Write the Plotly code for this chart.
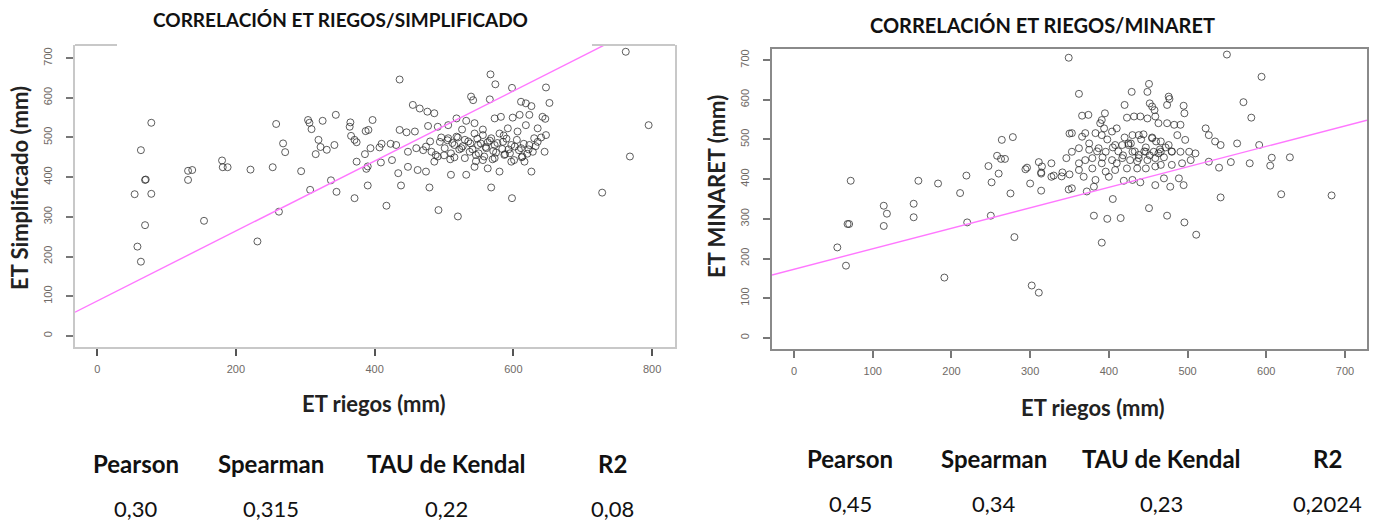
import plotly.graph_objects as go

W, H = 1381, 523

# ---------------- data: left panel (ET riegos vs ET Simplificado) ----------------
riegos_simpl = [78, 63, 69, 70, 54, 78, 69, 58, 63,
    131, 137, 131, 180, 181, 188, 154, 221, 231, 253, 258, 268, 271, 262, 294, 304, 306, 309, 325, 344, 319, 322, 331, 342, 315, 307, 337, 345, 365, 364, 366, 371, 374, 397, 387, 391, 371, 374, 386, 390, 388, 390, 394, 407, 410, 423, 409, 425, 417,
    436, 567, 574, 598, 647, 652, 762, 795, 768, 728, 539, 542, 566, 455, 465, 476, 486, 611, 618, 626, 642, 646, 518, 532, 544, 573, 582, 599, 609, 623, 436, 446, 458, 477, 491, 506,
    431, 448, 460, 474, 482,
    494, 506, 518, 530, 544, 556, 568, 580, 592, 606, 618, 630,
    501, 515, 525, 537, 549, 561, 573, 585, 597, 611, 623, 635,
    491, 510, 530, 546, 556, 573, 587, 601, 613, 628,
    448, 462, 474, 486, 510, 532, 544, 563, 580, 597, 616, 626,
    434, 438, 479, 492, 520, 568, 598, 645, 647, 635,
    505, 512, 520, 527, 535, 541, 548, 553, 560, 566, 571, 577, 584, 590, 595, 602, 608, 615, 620, 632,
    500, 515, 522, 538, 550, 558, 563, 575, 588, 593, 605, 612, 622, 640,
    470, 480, 488, 496, 509, 526, 546, 556, 570, 586]
et_simplificado = [537, 468, 393, 394, 357, 358, 279, 225, 187,
    416, 418, 393, 442, 425, 425, 290, 419, 238, 425, 534, 485, 463, 313, 415, 544, 537, 521, 542, 557, 494, 476, 469, 481, 458, 368, 392, 363, 538, 527, 504, 494, 488, 544, 516, 519, 347, 439, 458, 427, 421, 379, 473, 475, 484, 484, 437, 443, 328,
    646, 659, 634, 625, 626, 587, 716, 531, 452, 361, 603, 594, 596, 582, 573, 565, 561, 590, 586, 579, 552, 547, 548, 542, 536, 548, 552, 550, 557, 557, 519, 513, 515, 529, 527, 531,
    481, 464, 473, 477, 464,
    489, 498, 502, 494, 510, 506, 498, 510, 523, 515, 531, 498,
    473, 481, 473, 464, 481, 473, 481, 489, 481, 473, 481, 489,
    452, 460, 448, 456, 443, 448, 456, 443, 452, 464,
    426, 418, 414, 439, 406, 406, 426, 422, 414, 439, 439, 414,
    410, 379, 374, 317, 301, 374, 347, 464, 506, 523,
    493, 486, 500, 478, 490, 470, 497, 485, 476, 492, 466, 486, 471, 497, 460, 477, 468, 484, 459, 478,
    455, 450, 470, 485, 460, 452, 488, 462, 458, 470, 494, 450, 470, 500,
    468, 490, 456, 500, 445, 520, 440, 520, 445, 505]
reg_simpl_intercept = 88
reg_simpl_slope = 0.882
reg_simpl_x = [-32, 833]

# ---------------- data: right panel (ET riegos vs ET MINARET) ----------------
riegos_minaret = [349, 72, 55, 66, 70, 68, 114, 118, 114, 152, 152, 158, 183, 191, 211, 219, 220, 247, 251, 250, 260, 258, 263, 268, 264, 278, 275, 280, 294, 296, 300, 311, 315, 327, 314, 314, 327, 330, 340, 341, 350, 314, 346, 350, 349, 302, 311,
    550, 594, 571, 581, 451, 429, 449, 362, 476, 477, 474, 420, 452, 455, 458, 495, 496, 366, 374, 395, 423, 432, 440, 449, 459, 463, 474, 483, 491, 389, 394, 391,
    353, 366, 370, 383, 391, 404, 410, 430, 438, 444, 455, 466, 476, 487, 497, 523, 527, 535, 542, 563, 591,
    353, 362, 375, 387, 396, 408, 417, 425, 430, 438, 447, 457, 466, 480, 491, 502, 510,
    362, 370, 379, 391, 404, 417, 427, 438, 449, 459,
    362, 379, 396, 408, 423, 436, 447, 459, 466, 480, 493, 504,
    368, 383, 400, 419, 430, 440, 459, 470, 478, 489, 495,
    353, 372, 381, 527, 540, 555, 579, 605, 607, 630, 542, 405, 451, 381, 398, 415, 474, 496, 511, 391, 619, 683,
    398, 405, 412, 420, 425, 433, 441, 447, 452, 460, 465, 470, 375, 385, 392, 410, 418, 428, 436, 445, 455, 463, 472, 480]
et_minaret = [706, 396, 228, 182, 287, 287, 333, 313, 282, 338, 304, 396, 389, 152, 365, 409, 291, 433, 392, 308, 414, 459, 451, 451, 499, 506, 364, 254, 425, 429, 389, 443, 432, 440, 414, 417, 406, 409, 407, 417, 412, 371, 453, 515, 374, 132, 114,
    714, 658, 594, 555, 640, 620, 620, 615, 608, 602, 587, 587, 591, 583, 574, 585, 566, 560, 562, 566, 555, 558, 558, 553, 558, 541, 541, 537, 537, 541, 528, 549,
    516, 507, 516, 516, 511, 520, 528, 511, 511, 513, 503, 495, 486, 511, 499, 528, 511, 495, 486, 490, 486,
    469, 478, 474, 478, 469, 486, 486, 486, 469, 461, 469, 469, 469, 469, 469, 469, 465,
    440, 448, 453, 440, 448, 453, 448, 453, 448, 453,
    423, 427, 419, 423, 427, 427, 427, 432, 436, 436, 440, 448,
    406, 398, 406, 396, 398, 392, 385, 402, 381, 402, 385,
    377, 369, 381, 444, 429, 443, 440, 434, 454, 455, 354, 350, 327, 308, 300, 302, 308, 291, 260, 240, 362, 359,
    500, 480, 470, 505, 490, 470, 500, 480, 460, 495, 475, 455, 490, 470, 455, 440, 460, 490, 445, 470, 505, 465, 480, 470]
reg_minaret_intercept = 173
reg_minaret_slope = 0.516
reg_minaret_x = [-28, 728]

# ---------------- text ----------------
stat_names = ["Pearson", "Spearman", "TAU de Kendal", "R2"]
stats_simpl = ["0,30", "0,315", "0,22", "0,08"]
stats_minaret = ["0,45", "0,34", "0,23", "0,2024"]

FONT = "Lato"
TICKFONT = "Liberation Sans"


def px(x):
    return x / W


def py(y):
    return 1 - y / H


fig = go.Figure()

marker = dict(symbol="circle-open", size=7, color="rgba(40,40,40,0.75)", line=dict(width=1))

fig.add_trace(go.Scatter(x=riegos_simpl, y=et_simplificado, mode="markers", marker=marker,
                         xaxis="x", yaxis="y", showlegend=False, hoverinfo="x+y"))
fig.add_trace(go.Scatter(x=reg_simpl_x,
                         y=[reg_simpl_intercept + reg_simpl_slope * v for v in reg_simpl_x],
                         mode="lines", line=dict(color="#ff77ff", width=1.4),
                         xaxis="x", yaxis="y", showlegend=False))
fig.add_trace(go.Scatter(x=riegos_minaret, y=et_minaret, mode="markers", marker=marker,
                         xaxis="x2", yaxis="y2", showlegend=False, hoverinfo="x+y"))
fig.add_trace(go.Scatter(x=reg_minaret_x,
                         y=[reg_minaret_intercept + reg_minaret_slope * v for v in reg_minaret_x],
                         mode="lines", line=dict(color="#ff77ff", width=1.4),
                         xaxis="x2", yaxis="y2", showlegend=False))

tickfont = dict(family=TICKFONT, size=11, color="#6f6a66")

common_x = dict(showgrid=False, zeroline=False, ticks="outside", ticklen=7, tickwidth=1.5,
                tickfont=tickfont, showline=True, linewidth=2, automargin=False, ticklabelstandoff=4)
common_y = dict(showgrid=False, zeroline=False, ticks="outside", ticklen=7, tickwidth=1.5,
                tickfont=tickfont, tickangle=-90, showline=True, linewidth=2, automargin=False,
                ticklabelstandoff=10)

fig.update_layout(
    width=W, height=H, autosize=False,
    margin=dict(l=0, r=0, t=0, b=0),
    paper_bgcolor="white", plot_bgcolor="white",
    xaxis=dict(common_x, domain=[px(75), px(675)], range=[-32, 833], anchor="y",
               tickvals=[0, 200, 400, 600, 800], linecolor="#c8c8c8", tickcolor="#555", mirror=False),
    yaxis=dict(common_y, domain=[py(347), py(45)], range=[-28, 733], anchor="x",
               tickvals=[0, 100, 200, 300, 400, 500, 600, 700], linecolor="#c8c8c8", tickcolor="#777",
               mirror=True),
    xaxis2=dict(common_x, domain=[px(772), px(1367)], range=[-28, 728], anchor="y2",
                tickvals=[0, 100, 200, 300, 400, 500, 600, 700], linecolor="#8a8a8a", tickcolor="#777",
                mirror=True),
    yaxis2=dict(common_y, domain=[py(349), py(49)], range=[-28, 728], anchor="x2",
                tickvals=[0, 100, 200, 300, 400, 500, 600, 700], linecolor="#8a8a8a", tickcolor="#777",
                mirror=True),
)

# partial top border of the left panel
for x0, x1 in [(0, (117 - 75) / 600), ((592 - 75) / 600, 1)]:
    fig.add_shape(type="line", xref="x domain", yref="y domain", x0=x0, x1=x1, y0=1, y1=1,
                  line=dict(color="#c8c8c8", width=2))

ann = []


def text(x, y, s, size, bold=False, angle=0, color="#111"):
    ann.append(dict(x=px(x), y=py(y), xref="paper", yref="paper", text=f"<b>{s}</b>" if bold else s,
                    showarrow=False, xanchor="center", yanchor="middle", textangle=angle,
                    font=dict(family=FONT, size=size, color=color)))


text(340, 20, "CORRELACIÓN ET RIEGOS/SIMPLIFICADO", 19, bold=True)
text(1042, 25, "CORRELACIÓN ET RIEGOS/MINARET", 20, bold=True)
text(374, 403, "ET riegos (mm)", 22, bold=True, color="#222")
text(1093, 407, "ET riegos (mm)", 22, bold=True, color="#222")
text(19, 188, "ET Simplificado (mm)", 22, bold=True, angle=-90, color="#222")
text(717, 187, "ET MINARET (mm)", 22, bold=True, angle=-90, color="#222")

left_cols = [136, 271, 446, 612]
right_cols = [850, 994, 1161, 1327]
for cx, name, val in zip(left_cols, stat_names, stats_simpl):
    text(cx, 463, name, 24, bold=True)
    text(cx, 508, val, 22)
for cx, name, val in zip(right_cols, stat_names, stats_minaret):
    text(cx, 458, name, 24, bold=True)
    text(cx, 503, val, 22)

fig.update_layout(annotations=ann)
fig.write_html("out.html", config={"displayModeBar": False},
               post_script="document.body.style.margin='0';document.body.style.overflow='hidden';")
